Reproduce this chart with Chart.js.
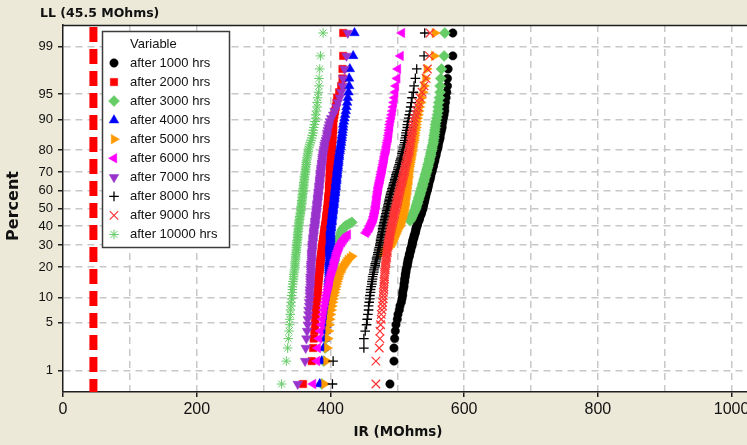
<!DOCTYPE html>
<html>
<head>
<meta charset="utf-8">
<script src="https://cdn.jsdelivr.net/npm/chart.js@4.4.1/dist/chart.umd.min.js"></script>
<style>
  html, body { margin: 0; padding: 0; background: #ece9d8; }
  #wrap { position: relative; width: 747px; height: 445px; }
</style>
</head>
<body>
<div id="wrap"><canvas id="plot"></canvas></div>
<script>
const pageColor = "#ece9d8";
const gridColor = "#c8c8c8";
const axisColor = "#1e1e1e";
const textColor = "#111111";

// lower limit reference line
const llValue = 45.5;

const seriesLabels = [
  "after 1000 hrs", "after 2000 hrs", "after 3000 hrs", "after 4000 hrs", "after 5000 hrs",
  "after 6000 hrs", "after 7000 hrs", "after 8000 hrs", "after 9000 hrs", "after 10000 hrs"
];

const percentTicks = [1, 5, 10, 20, 30, 40, 50, 60, 70, 80, 90, 95, 99];
const xGridValues = [0, 100, 200, 300, 400, 500, 600, 700, 800, 900, 1000];
const xMax = 1023;
const zEdge = 2.638;

// IR readings (MOhms), one list per inspection
const ir1000 = [
  489, 495, 495, 496, 497, 498,
  500, 501, 503, 504, 506, 507,
  508, 508, 509, 510, 510, 511, 511, 512, 512, 513, 513, 514,
  515, 515, 516, 516, 517, 518, 518, 519, 520, 520, 521, 522,
  522, 523, 523, 524, 525, 525, 526, 527, 527, 528, 528, 529,
  530, 530, 531, 532, 533, 533, 534, 535, 536, 536, 537, 538,
  538, 539, 539, 540, 540, 541, 541, 542, 542, 543, 543, 544,
  545, 545, 546, 546, 547, 547, 548, 549, 549, 550, 550, 551,
  552, 552, 553, 554, 554, 555, 556, 556, 557, 558, 558, 559,
  560, 561, 561, 562, 563, 564, 564, 565, 566, 567, 567, 568,
  569, 570, 571, 571, 572, 573,
  574, 575, 575, 576,
  583, 583
];
const ir2000 = [
  359, 372, 374, 375, 376, 377,
  377, 378, 378, 379, 379, 380,
  380, 381, 381, 381, 382, 382, 382, 383, 383, 383, 384, 384,
  384, 385, 385, 385, 386, 386, 386, 387, 387, 387, 388, 388,
  388, 389, 389, 389, 390, 390, 390, 391, 391, 391, 392, 392,
  392, 393, 393, 393, 394, 394, 394, 394, 395, 395, 395, 395,
  396, 396, 396, 396, 397, 397, 397, 397, 397, 398, 398, 398,
  398, 398, 398, 398, 399, 399, 399, 399, 399, 399, 399, 399,
  400, 400, 400, 400, 400, 400, 401, 401, 401, 401, 401, 401,
  402, 402, 402, 402, 403, 403, 403, 403, 404, 404, 404, 404,
  405, 406, 407, 408, 409, 410,
  413, 416, 418, 418,
  419, 419
];
const ir3000 = [
  387, 390, 392, 393, 394, 395,
  396, 396, 397, 398, 398, 399,
  399, 400, 400, 400, 401, 401, 402, 402, 402, 403, 403, 404,
  404, 405, 405, 406, 406, 407, 407, 408, 409, 409, 410, 411,
  411, 412, 413, 413, 414, 415, 416, 416, 417, 418, 419, 421,
  424, 428, 432,
  519, 520, 521, 522, 523, 524, 525, 526, 527,
  528, 528, 529, 530, 530, 531, 532, 532, 533, 534, 534, 535,
  536, 536, 537, 538, 538, 539, 540, 540, 541, 542, 542, 543,
  544, 544, 545, 546, 546, 547, 548, 548, 549, 550, 550, 551,
  552, 552, 553, 554, 554, 555, 555, 556, 556, 557, 557, 558,
  559, 560, 561, 561, 562, 563,
  564, 564, 565, 566,
  570, 571
];
const ir4000 = [
  384, 387, 390, 392, 393, 394,
  394, 395, 395, 395, 396, 396,
  396, 396, 397, 397, 397, 397, 397, 398, 398, 398, 398, 398,
  398, 398, 398, 399, 399, 399, 399, 399, 399, 399, 399, 399,
  399, 400, 400, 400, 400, 400, 400, 400, 400, 400, 401, 401,
  401, 401, 402, 402, 402, 402, 403, 403, 403, 403, 404, 404,
  404, 404, 405, 405, 405, 405, 406, 406, 406, 406, 407, 407,
  407, 407, 408, 408, 408, 408, 409, 409, 409, 409, 410, 410,
  410, 410, 411, 411, 411, 412, 412, 412, 413, 413, 413, 414,
  414, 415, 415, 416, 416, 417, 417, 418, 418, 419, 419, 420,
  421, 422, 423, 424, 425, 426,
  427, 428, 428, 429,
  434, 436
];
const ir5000 = [
  391, 394, 395, 396, 397, 398,
  399, 400, 401, 402, 403, 404,
  405, 406, 407, 408, 409, 410, 411, 412, 413, 415, 416, 418,
  420, 422, 424, 426, 429, 432,
  474, 478, 482, 485, 488, 490,
  491, 492, 493, 494, 495, 496, 497, 498, 499, 500, 501, 503,
  504, 504, 505, 505, 506, 507, 507, 508, 508, 509, 509, 510,
  510, 510, 511, 511, 511, 511, 512, 512, 512, 513, 513, 513,
  513, 514, 514, 514, 515, 515, 515, 515, 516, 516, 516, 516,
  517, 517, 517, 518, 518, 519, 519, 520, 520, 521, 521, 522,
  522, 523, 523, 524, 525, 525, 526, 526, 527, 528, 528, 529,
  530, 531, 532, 533, 535, 536,
  538, 540, 542, 544,
  555, 556
];
const ir6000 = [
  374, 380, 381, 383, 385, 387,
  388, 389, 390, 391, 392, 393,
  394, 395, 396, 397, 398, 399, 399, 400, 401, 402, 403, 404,
  405, 406, 406, 407, 408, 409, 409, 410, 411, 412, 413, 414,
  415, 417, 418, 420, 422, 424, 426,
  453, 455, 456, 458, 459,
  460, 461, 462, 463, 464, 465, 465, 466, 466, 467, 467, 468,
  468, 468, 469, 469, 469, 470, 470, 470, 470, 471, 471, 471,
  472, 472, 472, 473, 473, 474, 474, 475, 475, 476, 476, 477,
  477, 478, 478, 479, 479, 480, 480, 481, 481, 482, 482, 483,
  484, 484, 485, 485, 486, 487, 487, 488, 488, 489, 489, 490,
  491, 492, 493, 494, 495, 496,
  497, 498, 500, 501,
  505, 507
];
const ir7000 = [
  351, 362, 363, 364, 365, 366,
  366, 367, 367, 368, 368, 369,
  369, 369, 369, 370, 370, 370, 370, 370, 371, 371, 371, 371,
  371, 371, 372, 372, 372, 372, 372, 372, 373, 373, 373, 373,
  373, 374, 374, 374, 374, 375, 375, 375, 375, 376, 376, 376,
  377, 377, 377, 377, 378, 378, 378, 378, 379, 379, 379, 379,
  380, 380, 380, 380, 381, 381, 381, 381, 382, 382, 382, 382,
  383, 383, 383, 383, 384, 384, 384, 384, 385, 385, 385, 385,
  386, 386, 386, 387, 387, 387, 388, 388, 388, 389, 389, 390,
  390, 391, 391, 392, 393, 394, 395, 395, 396, 397, 398, 399,
  401, 404, 406, 409, 411, 414,
  416, 418, 419, 421,
  424, 426
];
const ir8000 = [
  403, 404, 450, 450, 452, 454,
  455, 456, 457, 457, 458, 459,
  459, 460, 460, 461, 462, 462, 463, 463, 464, 465, 465, 466,
  467, 467, 468, 469, 469, 470, 471, 471, 472, 472, 473, 474,
  474, 475, 475, 475, 476, 476, 477, 477, 478, 478, 478, 479,
  479, 480, 480, 481, 481, 482, 482, 483, 483, 484, 484, 485,
  485, 486, 486, 487, 487, 488, 488, 489, 489, 490, 490, 491,
  492, 492, 493, 494, 494, 495, 496, 496, 497, 498, 498, 499,
  500, 501, 501, 502, 503, 504, 504, 505, 506, 507, 507, 508,
  509, 509, 510, 511, 511, 512, 513, 513, 514, 515, 515, 516,
  517, 518, 519, 520, 521, 522,
  524, 525, 527, 529,
  540, 541
];
const ir9000 = [
  468, 468, 473, 474, 474, 475,
  476, 476, 477, 478, 478, 479,
  479, 479, 480, 480, 480, 480, 481, 481, 481, 481, 482, 482,
  482, 483, 483, 483, 484, 484, 484, 485, 485, 485, 486, 486,
  486, 487, 487, 488, 488, 489, 489, 489, 490, 490, 491, 491,
  492, 492, 493, 493, 494, 494, 495, 495, 496, 496, 497, 497,
  498, 498, 499, 499, 500, 500, 501, 501, 502, 502, 503, 503,
  504, 504, 505, 505, 506, 507, 507, 508, 508, 509, 509, 510,
  511, 511, 512, 512, 513, 514, 514, 515, 516, 516, 517, 518,
  518, 519, 519, 520, 520, 521, 521, 522, 523, 523, 524, 525,
  526, 528, 529, 531, 532, 534,
  537, 540, 543, 545,
  548, 549
];
const ir10000 = [
  327, 334, 336, 337, 338, 339,
  339, 340, 340, 341, 341, 342,
  342, 343, 343, 343, 344, 344, 345, 345, 345, 346, 346, 347,
  347, 347, 347, 348, 348, 348, 348, 349, 349, 349, 349, 350,
  350, 350, 350, 351, 351, 351, 351, 351, 352, 352, 352, 352,
  353, 353, 353, 353, 354, 354, 354, 355, 355, 355, 356, 356,
  356, 356, 357, 357, 357, 357, 358, 358, 358, 358, 359, 359,
  359, 359, 360, 360, 360, 360, 361, 361, 361, 361, 362, 362,
  362, 363, 363, 363, 364, 364, 364, 365, 365, 366, 366, 367,
  367, 368, 369, 370, 371, 372, 373, 374, 374, 375, 376, 377,
  378, 378, 379, 380, 380, 381,
  382, 383, 383, 384,
  385, 389
];

const seriesData = [ir1000, ir2000, ir3000, ir4000, ir5000, ir6000, ir7000, ir8000, ir9000, ir10000];

const markers = [
  { color: "#000000", style: "circle", radius: 4.2 },
  { color: "#ff0000", style: "rect", radius: 5.2 },
  { color: "#66cc66", style: "rectRot", radius: 5.5 },
  { color: "#0000ff", style: "triangle", radius: 5.5, rotation: 0 },
  { color: "#ff9900", style: "triangle", radius: 5.5, rotation: 90 },
  { color: "#ff00ff", style: "triangle", radius: 5.5, rotation: -90 },
  { color: "#9933cc", style: "triangle", radius: 5.5, rotation: 180 },
  { color: "#000000", style: "cross", radius: 4.8, line: 1.3 },
  { color: "#ff3333", style: "crossRot", radius: 6, line: 1.2 },
  { color: "#66cc66", style: "star", radius: 4.8, line: 1 }
];

// inverse standard normal cdf (Acklam)
function normInv(p) {
  const a = [-3.969683028665376e+01, 2.209460984245205e+02, -2.759285104469687e+02, 1.383577518672690e+02, -3.066479806614716e+01, 2.506628277459239e+00];
  const b = [-5.447609879822406e+01, 1.615858368580409e+02, -1.556989798598866e+02, 6.680131188771972e+01, -1.328068155288572e+01];
  const c = [-7.784894002430293e-03, -3.223964580411365e-01, -2.400758277161838e+00, -2.549732539343734e+00, 4.374664141464968e+00, 2.938163982698783e+00];
  const d = [7.784695709041462e-03, 3.224671290700398e-01, 2.445134137142996e+00, 3.754408661907416e+00];
  const pLow = 0.02425;
  let q, r;
  if (p < pLow) {
    q = Math.sqrt(-2 * Math.log(p));
    return (((((c[0] * q + c[1]) * q + c[2]) * q + c[3]) * q + c[4]) * q + c[5]) /
      ((((d[0] * q + d[1]) * q + d[2]) * q + d[3]) * q + 1);
  }
  if (p <= 1 - pLow) {
    q = p - 0.5;
    r = q * q;
    return (((((a[0] * r + a[1]) * r + a[2]) * r + a[3]) * r + a[4]) * r + a[5]) * q /
      (((((b[0] * r + b[1]) * r + b[2]) * r + b[3]) * r + b[4]) * r + 1);
  }
  q = Math.sqrt(-2 * Math.log(1 - p));
  return -(((((c[0] * q + c[1]) * q + c[2]) * q + c[3]) * q + c[4]) * q + c[5]) /
    ((((d[0] * q + d[1]) * q + d[2]) * q + d[3]) * q + 1);
}

// median rank plotting positions on the normal probability axis
function probPoints(values) {
  const sorted = values.slice().sort((a, b) => a - b);
  const n = sorted.length;
  return sorted.map((v, i) => ({ x: v, y: normInv((i + 1 - 0.3) / (n + 0.4)) }));
}

const datasets = seriesData.map((values, s) => {
  const m = markers[s];
  return {
    label: seriesLabels[s],
    data: probPoints(values),
    pointStyle: m.style,
    pointRadius: m.radius,
    pointRotation: m.rotation || 0,
    pointBackgroundColor: m.color,
    pointBorderColor: m.color,
    pointBorderWidth: m.line || 0.5,
    showLine: false,
    order: -s
  };
});

datasets.push({
  label: "LL",
  data: [{ x: llValue, y: zEdge }, { x: llValue, y: -zEdge }],
  showLine: true,
  borderColor: "#ff0000",
  borderWidth: 8,
  borderDash: [15, 7],
  borderDashOffset: -2,
  borderCapStyle: "butt",
  pointRadius: 0,
  order: 20
});

function drawLegend(ctx) {
  ctx.save();
  ctx.fillStyle = "#ffffff";
  ctx.fillRect(102, 31, 127, 216);
  ctx.strokeStyle = "#3c3c3c";
  ctx.lineWidth = 1.5;
  ctx.strokeRect(102.5, 31.5, 127, 216);

  ctx.font = '13px "Liberation Sans"';
  ctx.textBaseline = "middle";
  ctx.textAlign = "left";
  ctx.fillStyle = textColor;
  ctx.fillText("Variable", 130, 44);

  seriesLabels.forEach((label, s) => {
    const m = markers[s];
    const y = 63 + s * 19.05;
    ctx.fillStyle = m.color;
    ctx.strokeStyle = m.color;
    ctx.lineWidth = m.line || 0.5;
    Chart.helpers.drawPoint(ctx, {
      pointStyle: m.style,
      rotation: m.rotation || 0,
      radius: m.radius,
      borderWidth: m.line || 0.5
    }, 114, y);
    ctx.fillStyle = textColor;
    ctx.fillText(label, 130, y);
  });
  ctx.restore();
}

const decorations = {
  id: "decorations",
  beforeDraw(chart) {
    const { ctx, chartArea: a } = chart;
    ctx.save();
    ctx.fillStyle = pageColor;
    ctx.fillRect(0, 0, chart.width, chart.height);
    ctx.fillStyle = "#ffffff";
    ctx.fillRect(a.left, a.top, a.right - a.left, a.bottom - a.top);
    ctx.restore();
  },
  afterDraw(chart) {
    const { ctx, chartArea: a } = chart;
    ctx.save();
    ctx.strokeStyle = axisColor;
    ctx.lineWidth = 1.5;
    ctx.beginPath();
    ctx.moveTo(a.left, a.top + 0.5);
    ctx.lineTo(a.right, a.top + 0.5);
    ctx.stroke();

    ctx.fillStyle = textColor;
    ctx.textBaseline = "middle";
    ctx.font = 'bold 12.5px "DejaVu Sans"';
    ctx.textAlign = "left";
    ctx.fillText("LL (" + llValue + " MOhms)", 40, 14);

    ctx.font = 'bold 13.5px "DejaVu Sans"';
    ctx.textAlign = "center";
    ctx.fillText("IR (MOhms)", 398, 432);

    ctx.font = 'bold 16px "DejaVu Sans"';
    ctx.translate(14, 206);
    ctx.rotate(-Math.PI / 2);
    ctx.fillText("Percent", 0, 0);
    ctx.restore();

    drawLegend(ctx);
  }
};

Chart.defaults.font.family = '"Liberation Sans"';

new Chart(document.getElementById("plot"), {
  type: "scatter",
  data: { datasets },
  options: {
    responsive: true,
    maintainAspectRatio: false,
    animation: false,
    events: [],
    layout: { autoPadding: false, padding: { top: 25, right: 0, bottom: 0, left: 0 } },
    plugins: {
      legend: { display: false },
      tooltip: { enabled: false }
    },
    scales: {
      x: {
        type: "linear",
        min: 0,
        max: xMax,
        afterBuildTicks: axis => {
          axis.ticks = xGridValues.map(v => ({ value: v }));
        },
        afterFit: axis => {
          axis.height = 53;
          axis.paddingLeft = 0;
          axis.paddingRight = 0;
        },
        grid: {
          color: c => (c.tick && c.tick.value === 0 ? "rgba(0,0,0,0)" : gridColor),
          lineWidth: 1.5,
          tickLength: 5,
          tickWidth: 1.5,
          tickColor: c => (c.tick && c.tick.value % 200 === 0 ? axisColor : "rgba(0,0,0,0)")
        },
        border: { color: axisColor, width: 1.5, dash: [7, 5] },
        ticks: {
          autoSkip: false,
          maxRotation: 0,
          padding: 3,
          color: textColor,
          font: { size: 16 },
          callback: v => (v % 200 === 0 ? String(v) : "")
        }
      },
      y: {
        type: "linear",
        min: -zEdge,
        max: zEdge,
        afterBuildTicks: axis => {
          axis.ticks = percentTicks.map(p => ({ value: normInv(p / 100) }));
        },
        afterFit: axis => {
          axis.width = 63;
          axis.paddingTop = 0;
          axis.paddingBottom = 0;
        },
        grid: {
          color: gridColor,
          lineWidth: 1.5,
          tickLength: 5,
          tickWidth: 1.5,
          tickColor: axisColor
        },
        border: { color: axisColor, width: 1.5, dash: [7, 5] },
        ticks: {
          autoSkip: false,
          padding: 5,
          color: textColor,
          font: { size: 13 },
          callback: (v, i) => String(percentTicks[i])
        }
      }
    }
  },
  plugins: [decorations]
});
</script>
</body>
</html>
